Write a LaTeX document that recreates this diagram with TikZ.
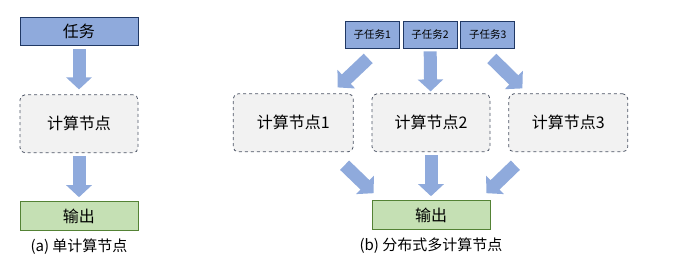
\documentclass[tikz,border=0pt]{standalone}
\usepackage{fontspec}
\setmainfont{Noto Sans CJK SC}
\usepackage{tikz}
\usetikzlibrary{positioning, arrows.meta}

\definecolor{taskfill}{HTML}{8FAADC}
\definecolor{taskline}{HTML}{203864}
\definecolor{nodefill}{HTML}{F2F2F2}
\definecolor{nodeline}{HTML}{4D5566}
\definecolor{outfill}{HTML}{C5E0B4}
\definecolor{outline}{HTML}{548235}
\definecolor{flow}{HTML}{8FAADC}

\begin{document}
\begin{tikzpicture}[
  x=1pt, y=-1pt,
  font=\fontsize{16}{19}\selectfont,
  box/.style={draw, minimum width=118pt, inner sep=0pt, align=center,
    line width=0.8pt},
  task/.style={box, fill=taskfill, draw=taskline, minimum height=28pt},
  subtask/.style={task, minimum width=54pt, minimum height=27pt,
    font=\fontsize{10.5}{12}\selectfont},
  comp/.style={box, fill=nodefill, draw=nodeline, dashed, rounded corners=5pt,
    minimum height=58pt},
  oput/.style={box, fill=outfill, draw=outline, minimum height=29pt},
  capt/.style={anchor=north, inner sep=0pt, font=\fontsize{15}{18}\selectfont},
  bigarrow/.style={flow, line width=13pt,
    -{Triangle[length=12pt, width=25pt]}},
]
  \useasboundingbox (0,0) rectangle (673,277);

  % (a) single node
  \node[task] (t0) at (79,31) {任务};
  \node[comp, below=49pt of t0] (c0) {计算节点};
  \node[oput, below=48pt of c0] (o0) {输出};
  \node[capt, below=8pt of o0] (ca) {(a) 单计算节点};

  \draw[bigarrow, shorten <=4pt, shorten >=5pt] (t0) -- (c0);
  \draw[bigarrow, shorten <=3pt, shorten >=4pt] (c0) -- (o0);

  % (b) distributed nodes
  \node[subtask] (s2) at (430,34.5) {子任务2};
  \node[subtask, left=3pt of s2] (s1) {子任务1};
  \node[subtask, right=3pt of s2] (s3) {子任务3};

  \node[comp, below=45pt of s2, xshift=1pt] (c2) {计算节点2};
  \node[comp, minimum width=120pt, left=18pt of c2] (c1) {计算节点1};
  \node[comp, minimum width=119pt, right=18pt of c2] (c3) {计算节点3};

  \node[oput, below=48pt of c2] (o1) {输出};
  \node[capt, below=8pt of o1] (cb) {(b) 分布式多计算节点};

  \draw[bigarrow] ([shift={(-4,10)}]s1.south) -- ([shift={(-16,-6)}]c1.north east);
  \draw[bigarrow, shorten <=3pt, shorten >=2pt] (s2) -- (c2);
  \draw[bigarrow] ([shift={(4,10)}]s3.south) -- ([shift={(14,-5)}]c3.north west);

  \draw[bigarrow] ([shift={(-9,13)}]c1.south east) -- ([shift={(2,-7)}]o1.north west);
  \draw[bigarrow, shorten <=3pt, shorten >=4pt] (c2) -- (o1);
  \draw[bigarrow] ([shift={(7,13)}]c3.south west) -- ([shift={(-4,-7)}]o1.north east);
\end{tikzpicture}
\end{document}
